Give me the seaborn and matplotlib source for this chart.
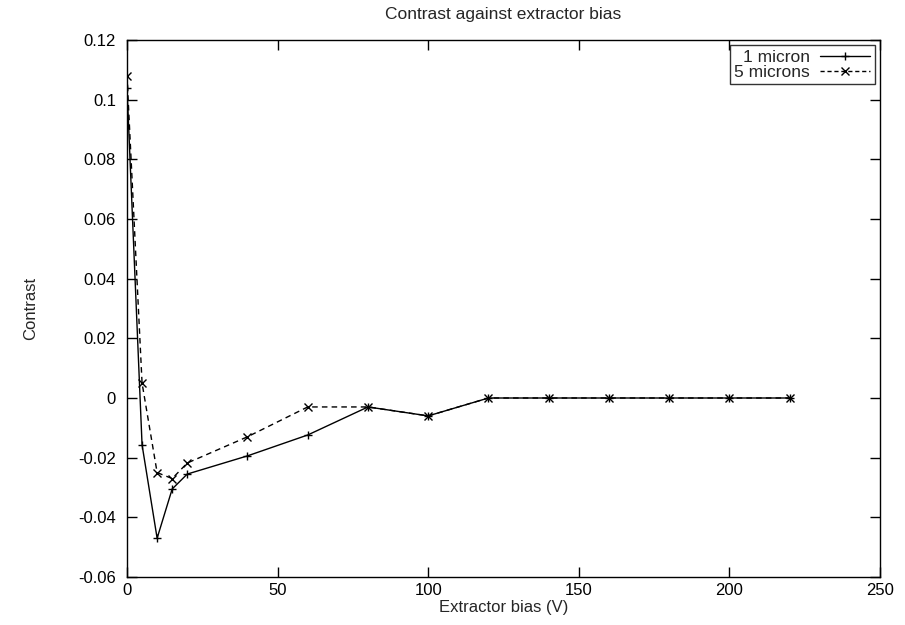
import matplotlib
matplotlib.use("Agg")
import matplotlib.pyplot as plt
import seaborn as sns
import pandas as pd

bias = [0, 5, 10, 15, 20, 40, 60, 80, 100, 120, 140, 160, 180, 200, 220]
contrast_1um = [0.104, -0.0157, -0.047, -0.0305, -0.0255, -0.0194, -0.0124, -0.003, -0.006, 0, 0, 0, 0, 0, 0]
contrast_5um = [0.108, 0.005, -0.025, -0.027, -0.0218, -0.013, -0.003, -0.003, -0.006, 0, 0, 0, 0, 0, 0]
series_names = ["1 micron", "5 microns"]

df = pd.concat([
    pd.DataFrame({"bias": bias, "contrast": contrast_1um, "series": series_names[0]}),
    pd.DataFrame({"bias": bias, "contrast": contrast_5um, "series": series_names[1]}),
])

sns.set_style("ticks")
plt.rcParams["font.family"] = ["Liberation Sans", "DejaVu Sans"]
plt.rcParams["font.size"] = 12

fig = plt.figure(figsize=(9.05, 6.25), dpi=100)
ax = fig.add_axes([127/905, 1 - 577/625, (880-127)/905, (577-40)/625])

sns.lineplot(data=df, x="bias", y="contrast", hue="series", style="series",
             palette=["black", "black"], dashes=[(None, None), (4, 3)],
             markers=["+", "x"], markersize=6, markeredgewidth=1.0,
             linewidth=1.0, ax=ax, legend=True)
lines = ax.get_lines()
lines[0].set_linestyle("-")
lines[1].set_linestyle((0, (4, 3)))
for l in lines:
    l.set_markeredgecolor("black")

ax.set_xlim(0, 250)
ax.set_ylim(-0.06, 0.12)
ax.set_xticks([0, 50, 100, 150, 200, 250])
ax.set_yticks([-0.06, -0.04, -0.02, 0, 0.02, 0.04, 0.06, 0.08, 0.1, 0.12])
ax.set_yticklabels(["-0.06", "-0.04", "-0.02", "0", "0.02", "0.04", "0.06", "0.08", "0.1", "0.12"])
ax.tick_params(direction="in", length=7, width=1, top=True, right=True, labelsize=12, colors="black")
ax.tick_params(axis="y", pad=8)
ax.tick_params(axis="x", pad=4)
for s in ax.spines.values():
    s.set_visible(True)
    s.set_color("black")
    s.set_linewidth(1)

ax.set_xlabel("Extractor bias (V)", fontsize=12, labelpad=2)
ax.set_ylabel("Contrast", fontsize=12, labelpad=29)
ax.set_title("Contrast against extractor bias", fontsize=12.5, pad=15)

handles = ax.get_legend().legend_handles
leg = ax.legend(handles=handles, labels=series_names, loc="upper right",
                markerfirst=False, frameon=True, fancybox=False, edgecolor="black",
                fontsize=12.5, handlelength=2.9, borderaxespad=0.3, borderpad=0.25,
                labelspacing=0.0, handletextpad=0.6)
leg.get_frame().set_linewidth(1)
for h, ls in zip(leg.legend_handles, ["-", (0, (3, 2))]):
    h.set_color("black")
    h.set_linestyle(ls)
    h.set_markeredgecolor("black")

fig.savefig("out.png", dpi=100)
